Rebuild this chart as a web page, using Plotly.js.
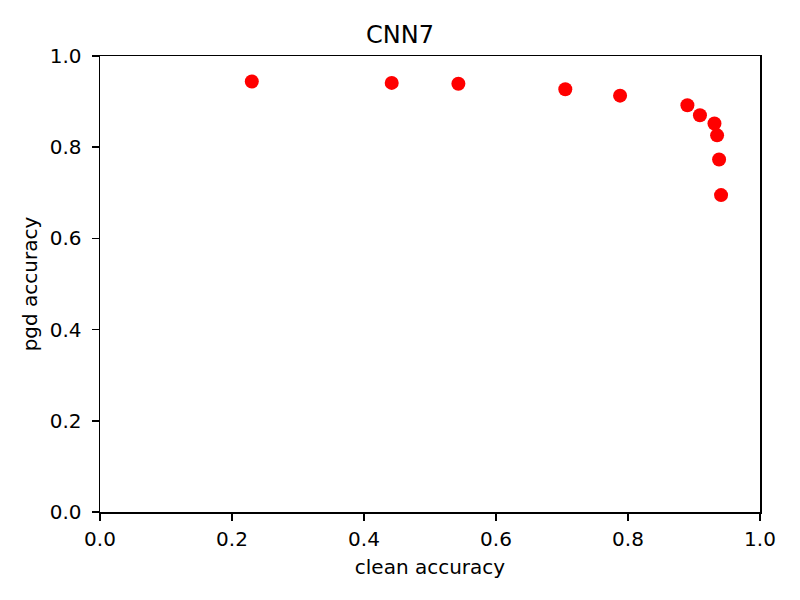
<!DOCTYPE html>
<html>
<head>
<meta charset="utf-8">
<script src="https://cdn.plot.ly/plotly-3.0.1.min.js"></script>
<style>body{margin:0;padding:0;background:#fff}#chart{width:800px;height:600px}</style>
</head>
<body>
<div id="chart"></div>
<script>
const cleanAccuracy = [0.230, 0.442, 0.543, 0.705, 0.788, 0.890, 0.909, 0.931, 0.935, 0.938, 0.941];
const pgdAccuracy = [0.944, 0.941, 0.939, 0.927, 0.913, 0.892, 0.870, 0.852, 0.826, 0.773, 0.695];
const tickVals = [0, 0.2, 0.4, 0.6, 0.8, 1.0];
const tickText = ['0.0', '0.2', '0.4', '0.6', '0.8', '1.0'];

const font = {family: 'DejaVu Sans', size: 20, color: '#000'};
const axisCommon = {
  range: [0, 1],
  tickvals: tickVals,
  ticktext: tickText,
  ticks: 'outside',
  ticklen: 7,
  tickwidth: 1.5,
  tickcolor: '#000',
  showline: true,
  linecolor: '#000',
  linewidth: 1.5,
  mirror: true,
  showgrid: false,
  zeroline: false,
  tickfont: font
};

Plotly.newPlot('chart', [{
  x: cleanAccuracy,
  y: pgdAccuracy,
  type: 'scatter',
  mode: 'markers',
  marker: {color: '#ff0000', size: 14, line: {width: 0}},
  cliponaxis: false
}], {
  width: 800,
  height: 600,
  paper_bgcolor: '#fff',
  plot_bgcolor: '#fff',
  showlegend: false,
  margin: {l: 100, r: 40, t: 56, b: 88},
  title: {text: 'CNN7', font: {family: 'DejaVu Sans', size: 24, color: '#000'}, x: 0.5, xanchor: 'center', y: 1 - 35/600, yanchor: 'middle'},
  xaxis: Object.assign({}, axisCommon, {ticklabelstandoff: 1, title: {text: 'clean accuracy', font: font, standoff: 10}}),
  yaxis: Object.assign({}, axisCommon, {ticklabelstandoff: 6, title: {text: 'pgd accuracy', font: font, standoff: 6}})
}, {displayModeBar: false, staticPlot: true});
</script>
</body>
</html>
